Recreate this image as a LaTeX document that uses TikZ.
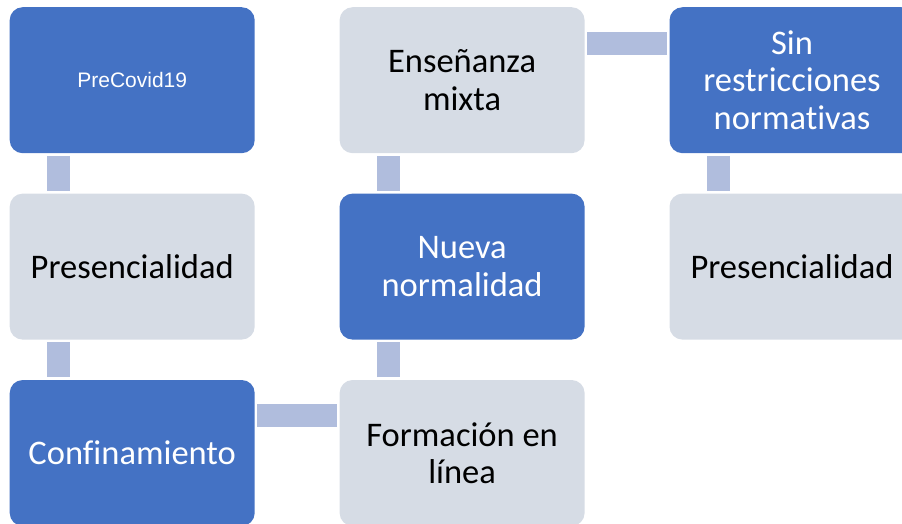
\documentclass[tikz,border=0pt]{standalone}
\usepackage{fontspec}
\setmainfont{Carlito}[Ligatures={NoCommon}]
\newfontfamily\arialfont{Liberation Sans}
\usepackage{xcolor}
\usepackage{tikz}
\usetikzlibrary{positioning}
\definecolor{darkblue}{RGB}{68,114,196}
\definecolor{lightbox}{RGB}{214,220,229}
\definecolor{linkblue}{RGB}{176,189,221}
\tikzset{
card/.style={rectangle, rounded corners=13pt, minimum width=245pt, minimum height=146pt,
inner sep=0pt, align=center, font=\fontsize{34.5}{37.5}\selectfont},
dark/.style={card,fill=darkblue,text=white},
light/.style={card,fill=lightbox,text=black},
link/.style={draw=linkblue,line width=23pt,shorten <=2.5pt,shorten >=2.5pt}
}

\begin{document}
\begin{tikzpicture}[x=1pt,y=-1pt,node distance=40pt and 84.5pt]
\useasboundingbox (0,0) rectangle (902,523);
\clip (0,0) rectangle (902,523);
\node[dark,anchor=north west,font=\arialfont\fontsize{21}{25}\selectfont] (pre) at (9.5,7) {PreCovid19};
\node[light,below=of pre] (pres) {Presencialidad};
\node[dark,below=of pres] (conf) {Confinamiento};
\node[light,right=of conf] (linea) {Formación en\\ línea};
\node[dark,above=of linea] (nueva) {Nueva\\ normalidad};
\node[light,above=of nueva] (mixta) {Enseñanza\\ mixta};
\node[dark,right=of mixta] (sin) {Sin\\ restricciones\\ normativas};
\node[light,below=of sin] (pres2) {Presencialidad};
\path[link]([xshift=49pt]pre.south west) edge ([xshift=49pt]pres.north west);
\path[link]([xshift=49pt]pres.south west) edge ([xshift=49pt]conf.north west);
\path[link]([yshift=-35.5pt]conf.north east) edge ([yshift=-35.5pt]linea.north west);
\path[link]([xshift=49pt]linea.north west) edge ([xshift=49pt]nueva.south west);
\path[link]([xshift=49pt]nueva.north west) edge ([xshift=49pt]mixta.south west);
\path[link]([yshift=-36pt]mixta.north east) edge ([yshift=-36pt]sin.north west);
\path[link]([xshift=49pt]sin.south west) edge ([xshift=49pt]pres2.north west);
\end{tikzpicture}
\end{document}
